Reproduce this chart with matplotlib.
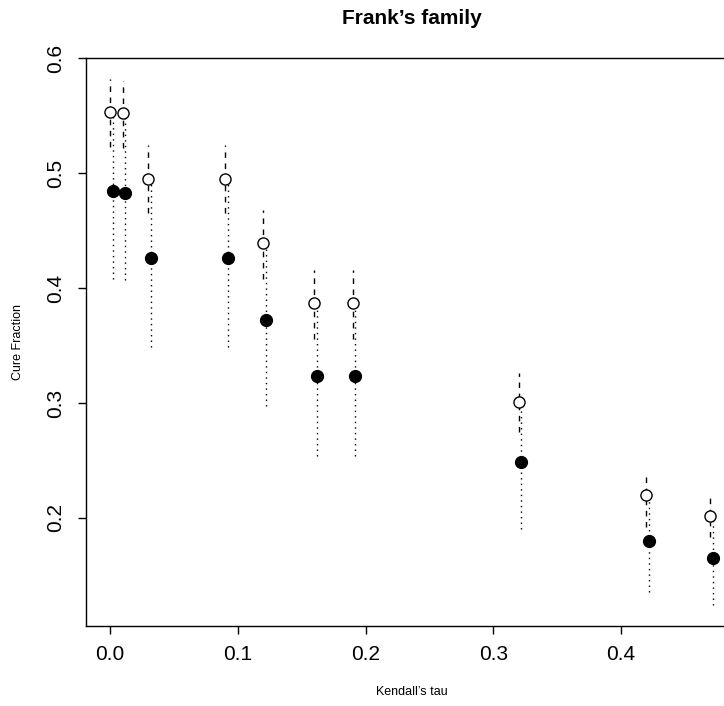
import matplotlib
matplotlib.use("Agg")
import matplotlib.pyplot as plt
import numpy as np

plt.rcParams['font.family'] = ['Liberation Sans', 'DejaVu Sans']

# Kendall's tau values
tau = [0.00, 0.01, 0.03, 0.09, 0.12, 0.16, 0.19, 0.32, 0.42, 0.47]
shift = 0.002  # small offset for the second estimate

# open circles (first estimate) with dashed interval
est1 = [0.553, 0.552, 0.495, 0.495, 0.439, 0.387, 0.387, 0.301, 0.220, 0.202]
low1 = [0.523, 0.522, 0.465, 0.465, 0.408, 0.356, 0.356, 0.275, 0.192, 0.183]
up1 = [0.582, 0.580, 0.524, 0.524, 0.468, 0.416, 0.416, 0.326, 0.240, 0.220]

# filled circles (second estimate) with dotted interval
est2 = [0.484, 0.483, 0.426, 0.426, 0.372, 0.323, 0.323, 0.249, 0.180, 0.165]
low2 = [0.408, 0.407, 0.349, 0.349, 0.297, 0.254, 0.254, 0.190, 0.136, 0.124]
up2 = [0.550, 0.548, 0.492, 0.492, 0.436, 0.384, 0.384, 0.298, 0.217, 0.199]

tau = np.array(tau)
tau2 = tau + shift

fig = plt.figure(figsize=(7.24, 7.06), dpi=100)
ax = fig.add_axes([86/724, 80/706, 651/724, 568/706])

ax.vlines(tau, low1, up1, colors="black", linestyles=(0, (4, 4)), linewidth=1)
ax.vlines(tau2, low2, up2, colors="black", linestyles=(0, (1, 3)), linewidth=1)
ax.plot(tau, est1, "o", mfc="white", mec="black", ms=8, mew=1)
ax.plot(tau2, est2, "o", mfc="black", mec="black", ms=8.5)

ax.set_xlim(-0.0189, 0.4909)
ax.set_ylim(0.106, 0.6)
ax.set_xticks([0.0, 0.1, 0.2, 0.3, 0.4])
ax.set_yticks([0.2, 0.3, 0.4, 0.5, 0.6])
ax.tick_params(direction="out", length=6, width=1, labelsize=15, pad=8)
ax.tick_params(axis="y", labelrotation=90, pad=9)
for lab in ax.get_yticklabels():
    lab.set_va("center")
for s in ax.spines.values():
    s.set_linewidth(1)

fig.text(411.5/724, 1 - 19/706, "Frank\u2019s family", ha="center", va="center",
         fontsize=15, fontweight="bold")
fig.text(411.5/724, 1 - 692/706, "Kendall\u2019s tau", ha="center", va="center", fontsize=9)
fig.text(18/724, 1 - 342/706, "Cure Fraction", ha="center", va="center",
         rotation=90, fontsize=9)

fig.savefig("out.png", dpi=100)
